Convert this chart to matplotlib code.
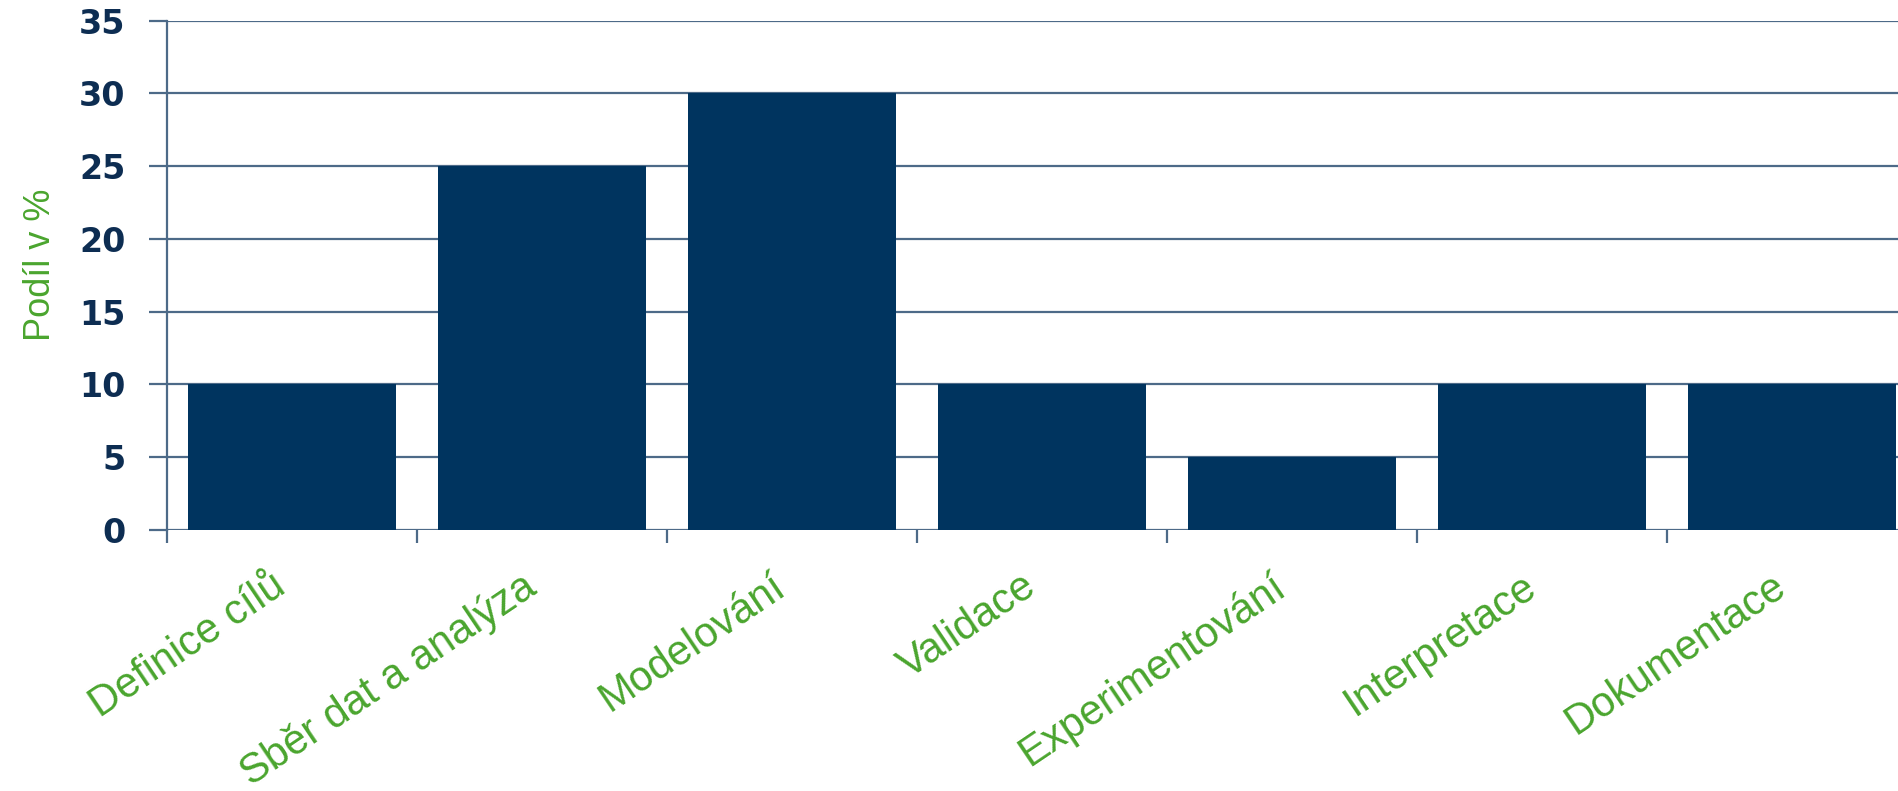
import matplotlib
matplotlib.use("Agg")
import matplotlib.pyplot as plt
import matplotlib.transforms as mtransforms
import numpy as np

categories = ["Definice cílů", "Sběr dat a analýza", "Modelování", "Validace",
              "Experimentování", "Interpretace", "Dokumentace"]
values = [10, 25, 30, 10, 5, 10, 10]
yticks = [0, 5, 10, 15, 20, 25, 30, 35]
ylabel = "Podíl v %"

bar_color = "#00345f"
line_color = "#4d6a88"
green = "#4aa52e"
tick_color = "#0d2d52"

fig = plt.figure(figsize=(18.98, 7.91), dpi=100)
# axes deliberately extends beyond the right figure edge (cropped like the original)
left_px, right_px = 167, 1917
top_px, bottom_px = 20.6, 530
ax = fig.add_axes([left_px / 1898, 1 - bottom_px / 791,
                   (right_px - left_px) / 1898, (bottom_px - top_px) / 791])

x = np.arange(len(categories)) + 0.5
ax.bar(x, values, width=0.83, color=bar_color, zorder=3)

ax.set_xlim(0, len(categories))
ax.set_ylim(0, 35)

ax.set_yticks(yticks)
ax.set_yticklabels([str(v) for v in yticks], fontsize=24, fontweight="bold",
                   color=tick_color, family="DejaVu Sans")
ax.grid(axis="y", color=line_color, linewidth=1.6, zorder=1)
ax.tick_params(axis="y", length=13, width=1.6, color=line_color, pad=17)

ax.set_xticks(np.arange(len(categories) + 1))
ax.set_xticklabels([])
ax.tick_params(axis="x", which="major", length=9, width=1.6, color=line_color)
ax.set_xticks(x, minor=True)
ax.set_xticklabels(categories, minor=True, rotation=34, ha="right",
                   va="center", rotation_mode="anchor", fontsize=30,
                   color=green, family="Liberation Sans")
ax.tick_params(axis="x", which="minor", length=0, pad=38)
shift = mtransforms.ScaledTranslation(-10 / 100, 0, fig.dpi_scale_trans)
for lab in ax.get_xticklabels(minor=True):
    lab.set_transform(lab.get_transform() + shift)

for s in ["top", "right", "bottom"]:
    ax.spines[s].set_visible(False)
ax.spines["left"].set_color(line_color)
ax.spines["left"].set_linewidth(1.6)
ax.spines["left"].set_bounds(0, 35)

ax.set_ylabel(ylabel, fontsize=26, color=green, family="Liberation Sans")
ax.yaxis.set_label_coords(-0.062, 0.52)

fig.savefig("out.png", dpi=100)
